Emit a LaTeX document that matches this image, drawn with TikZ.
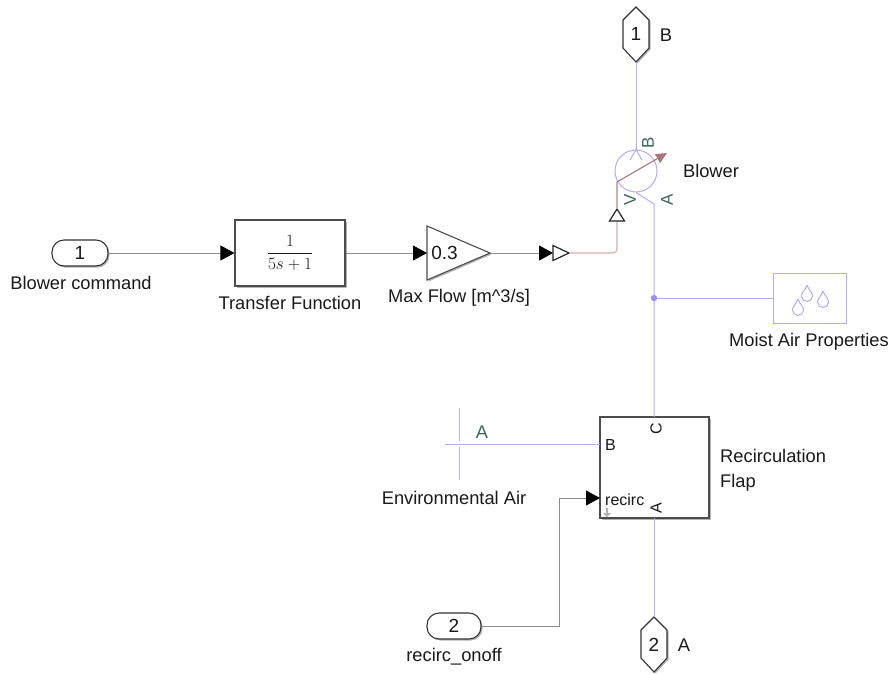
\documentclass[tikz,border=0pt]{standalone}
\usepackage{fontspec}
\setmainfont{Liberation Sans}
\usetikzlibrary{arrows.meta,shadows,positioning}
\definecolor{physblue}{HTML}{B8A8F8}
\definecolor{sigpink}{HTML}{CFB0B0}
\definecolor{sigline}{HTML}{8C8C8C}
\definecolor{portgreen}{HTML}{3F6660}
\definecolor{needle}{HTML}{A87878}
\tikzset{
  x=1pt,y=-1pt,
  every node/.style={font=\fontsize{18.3}{22}\selectfont,inner sep=0pt,text=black!90},
  shade3/.style={drop shadow={shadow xshift=1.5pt,shadow yshift=-1.5pt,opacity=0.3,fill=black}},
  blockbox/.style={draw=black!70,line width=1.1pt,fill=white,rectangle,shade3},
  inportbox/.style={draw=black!80,line width=1.1pt,fill=white,rectangle,rounded corners=12pt,minimum width=56pt,minimum height=26pt,shade3},
  hexport/.style={draw=black!80,line width=1.1pt,fill=white,shade3},
  sigwire/.style={draw=sigline,line width=0.8pt},
  sigarrow/.style={sigwire,-{Triangle[length=14pt,width=15pt,fill=black,color=black]}},
  physwire/.style={draw=physblue,line width=1pt},
  portlab/.style={text=portgreen,font=\fontsize{17}{20}\selectfont},
  droplet/.style={draw=physblue,line width=1pt,fill=white},
  opentri/.style={draw=black!85,line width=1.2pt,fill=white},
  flaptxt/.style={font=\fontsize{16}{19}\selectfont},
}
\newcommand{\hexat}[3]{% center x, center y, name
  \draw[hexport] (#1,#2-28) -- (#1+13,#2-15) -- (#1+13,#2+13) -- (#1,#2+27) -- (#1-13,#2+13) -- (#1-13,#2-15) -- cycle;
  \coordinate (#3top) at (#1,#2-28);
  \coordinate (#3bot) at (#1,#2+27);
}
\newcommand{\dropat}[2]{%
  \draw[droplet] (#1,#2-10) .. controls (#1+1.5,#2-5) and (#1+5.5,#2-3) .. (#1+5.5,#2+1) arc[start angle=0,end angle=180,radius=5.5] .. controls (#1-5.5,#2-3) and (#1-1.5,#2-5) .. (#1,#2-10);
}
\begin{document}
\begin{tikzpicture}
\useasboundingbox (0,0) rectangle (890,673);

% --- signal blocks
\node[inportbox] (in1) at (80,253) {\fontsize{19}{22}\selectfont 1};
\node[anchor=center] (in1lab) at (81,283) {Blower command};
\node[blockbox,minimum width=110pt,minimum height=66pt] (tf) at (290,253)
  {\fontsize{18}{22}\selectfont$\displaystyle\frac{1}{5s+1}$};
\node (tflab) at (290,303) {Transfer Function};
\draw[blockbox,line join=miter] (427,226) -- (490,253) -- (427,280) -- cycle;
\coordinate (gainin) at (427,253);
\coordinate (gainout) at (490,253);
\node[font=\fontsize{19}{22}\selectfont] (gaintxt) at (444.5,253) {0.3};
\node (gainlab) at (459,298) {Max Flow [m\^{}3/s]};

\draw[sigarrow] (in1.east) -- (tf.west);
\draw[sigarrow] (tf.east) -- (gainin);

% --- converter to physical signal
\coordinate (convin) at (553,253);
\coordinate (convout) at (569,253);
\coordinate (vtop) at (617,209);
\coordinate (vbase) at (617,221);
\draw[sigarrow] (gainout) -- (convin);
\draw[opentri] (553,245.5) -- (convout) -- (553,260.5) -- cycle;
\draw[draw=sigpink,line width=1.1pt,rounded corners=4pt] (convout) -- (617,253) -- (vbase);
\draw[opentri] (vtop) -- (624.5,221) -- (609.5,221) -- cycle;

% --- blower
\node[circle,draw=physblue,line width=1pt,minimum size=42pt] (blower) at (636,171) {};
\node (blowerlab) at (711,171) {Blower};
\coordinate (needlestart) at (617,182);
\coordinate (needleend) at (667,153);
\draw[draw=sigpink,line width=1.1pt] (vtop) -- (needlestart);
\draw[draw=needle,line width=1.1pt,-{Triangle[length=11pt,width=10pt,fill=needle,color=needle]}] (needlestart) -- (needleend);
\node[portlab,rotate=90] (portB) at (648,143) {B};
\node[portlab,rotate=90] (portV) at (630,200) {V};
\node[portlab,rotate=90] (portA) at (667,200) {A};

% --- connection ports
\hexat{636}{35}{pB}
\node[font=\fontsize{19}{22}\selectfont] (pBtxt) at (636,34) {1};
\node (pBlab) at (666,35) {B};
\hexat{654}{645}{pA}
\node[font=\fontsize{19}{22}\selectfont] (pAtxt) at (654,645) {2};
\node (pAlab) at (684,645) {A};

\draw[physwire] (pBbot) -- (blower.north);
\draw[physwire] (630,160) -- (blower.north) -- (642,160);

% --- moist air
\node[draw=physblue,line width=1pt,minimum width=73pt,minimum height=50pt] (moist) at (809.5,298) {};
\dropat{798}{309}
\dropat{807}{295}
\dropat{823}{301}
\node (moistlab) at (809,342) {Moist Air Properties};

% --- flap
\node[blockbox,minimum width=109pt,minimum height=101pt] (flap) at (654.5,467.5) {};
\coordinate (flapC) at (654,417);
\coordinate (flapA) at (654,518);
\coordinate (flapB) at (600,444);
\coordinate (flaprec) at (600,498);
\node[rotate=90,flaptxt] (flapCt) at (656,429) {C};
\node[flaptxt] (flapBt) at (610.5,445) {B};
\node[rotate=90,flaptxt] (flapAt) at (656,508) {A};
\node[anchor=west,flaptxt] (flapRt) at (605,500) {recirc};
\draw[draw=black!30,line width=1.4pt,-{Triangle[length=4pt,width=8pt,fill=black!30,color=black!30]}] (607,508) -- (607,517);
\node[anchor=west,align=left] (flaplab) at (720,470.5) {Recirculation\\[2.5pt]Flap};

% --- physical wires
\coordinate (bend) at (654,204);
\coordinate (junc) at (654,298);
\draw[physwire,line join=round] (blower.south) -- (bend) -- (flapC);
\draw[physwire] (junc) -- (moist.west);
\fill[physblue!85!blue] (junc) circle (3.2);
\draw[physwire] (flapA) -- (pAtop);

% --- environmental air
\coordinate (envL) at (445,444);
\coordinate (envT1) at (459,408);
\coordinate (envB1) at (459,441);
\coordinate (envT2) at (459,447);
\coordinate (envB2) at (459,480);
\draw[physwire] (envL) -- (flapB);
\draw[physwire] (envT1) -- (envB1);
\draw[physwire] (envT2) -- (envB2);
\node[portlab,font=\fontsize{18.3}{22}\selectfont] (envA) at (482,432) {A};
\node (envlab) at (454,498) {Environmental Air};

% --- recirc input
\node[inportbox,minimum width=54pt] (in2) at (454,626) {\fontsize{19}{22}\selectfont 2};
\node (in2lab) at (454,657) {recirc\_onoff};
\coordinate (c2) at (559,626);
\coordinate (c3) at (559,498);
\draw[sigarrow] (in2.east) -- (c2) -- (c3) -- (flaprec);
\end{tikzpicture}
\end{document}
